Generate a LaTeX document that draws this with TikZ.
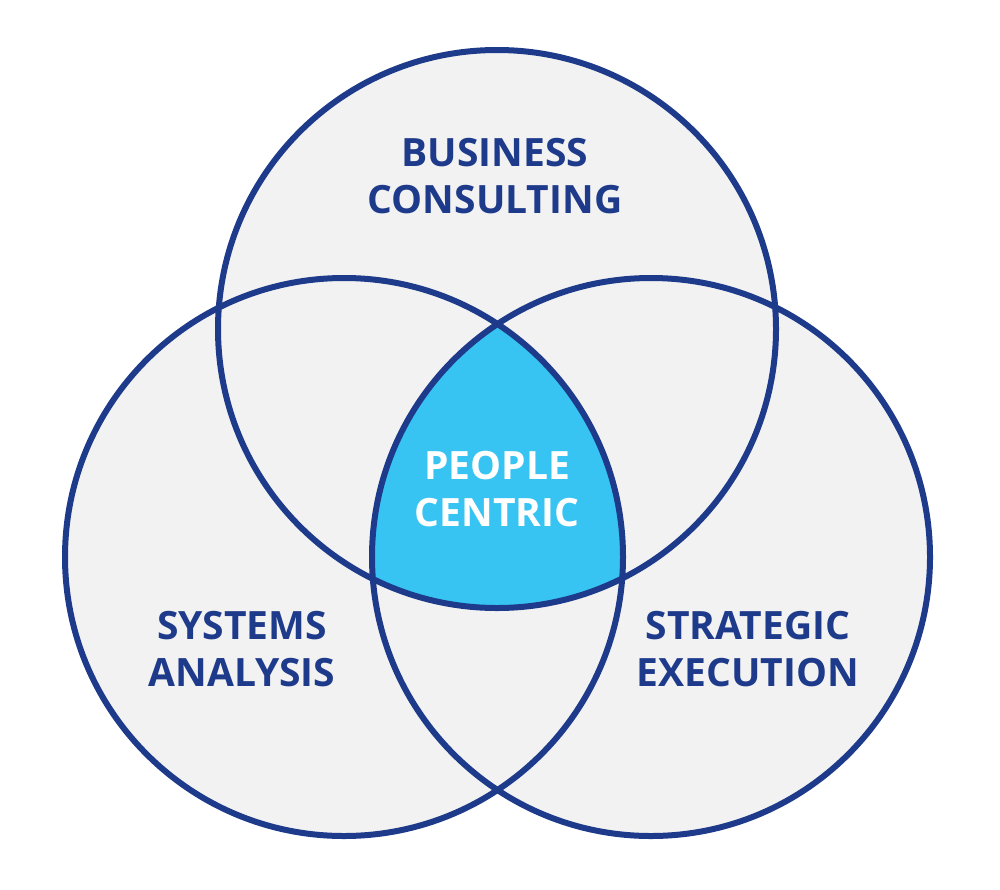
\documentclass[tikz,border=0pt]{standalone}
\usepackage{fontspec}
\setmainfont{Open Sans}
\usepackage{tikz}
\definecolor{navy}{HTML}{1E3A8A}
\definecolor{skyfill}{HTML}{38C4F2}
\definecolor{paper}{HTML}{F2F2F2}
\newcommand{\circR}{279pt}
\tikzstyle{venn}=[x=1pt, y=-1pt, font=\bfseries\fontsize{39}{47}\selectfont]
\tikzstyle{ring}=[draw=navy, line width=6pt]
\tikzstyle{lbl}=[align=center, inner sep=0pt, text=navy]
\tikzstyle{core}=[align=center, inner sep=0pt, text=white]

\begin{document}
\begin{tikzpicture}[venn]
\useasboundingbox (0,0) rectangle (1000,889);
\coordinate (cTop) at (497,329);
\coordinate (cLeft) at (344,557);
\coordinate (cRight) at (651,557);

\fill[paper] (cTop) circle (\circR) (cLeft) circle (\circR) (cRight) circle (\circR);

%The common part of all three
\begin{scope}
\clip (cTop) circle (\circR);
\clip (cLeft) circle (\circR);
\fill[skyfill] (cRight) circle (\circR);
\end{scope}

\draw[ring] (cTop) circle (\circR);
\draw[ring] (cLeft) circle (\circR);
\draw[ring] (cRight) circle (\circR);

\node[lbl] (business) at (495,176) {BUSINESS\\CONSULTING};
\node[core] (people) at (497,489) {PEOPLE\\CENTRIC};
\node[lbl] (systems) at (242,649) {SYSTEMS\\ANALYSIS};
\node[lbl] (strategic) at (748,649) {STRATEGIC\\EXECUTION};
\end{tikzpicture}
\end{document}
